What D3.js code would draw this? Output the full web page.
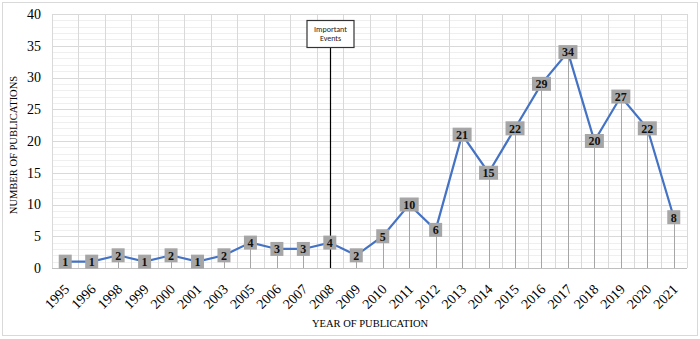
<!DOCTYPE html>
<html>
<head>
<meta charset="utf-8">
<script src="https://cdn.jsdelivr.net/npm/d3@7"></script>
<style>
  body { margin: 0; background: #fff; }
  svg { display: block; }
</style>
</head>
<body>
<script>
var width = 700,
    height = 339;

var years = ["1995", "1996", "1998", "1999", "2000", "2001", "2003", "2005", "2006", "2007", "2008",
             "2009", "2010", "2011", "2012", "2013", "2014", "2015", "2016", "2017", "2018", "2019", "2020", "2021"];
var counts = [1, 1, 2, 1, 2, 1, 2, 4, 3, 3, 4, 2, 5, 10, 6, 21, 15, 22, 29, 34, 20, 27, 22, 8];
var yTicks = [0, 5, 10, 15, 20, 25, 30, 35, 40];
var eventYear = "2008";
var eventText = ["Important", "Events"];

var serif = "Liberation Serif, Times New Roman, serif";
var margin = {left: 52, right: 13, top: 14, bottom: 71};

var xScale = d3.scaleBand()
    .domain(years)
    .range([margin.left, width - margin.right]);

var yScale = d3.scaleLinear()
    .domain([0, 40])
    .range([height - margin.bottom, margin.top]);

var svg = d3.select("body")
    .append("svg")
    .attr("width", width)
    .attr("height", height);

// outer frame
svg.append("rect")
    .attr("x", 2.5).attr("y", 2.5)
    .attr("width", width - 5).attr("height", height - 6)
    .attr("fill", "#fff")
    .attr("stroke", "#d9d9d9");

// minor horizontal grid
svg.append("g")
    .selectAll("line")
    .data(d3.range(1, 40).filter(function(d) { return d % 5 != 0; }))
    .enter()
    .append("line")
    .attr("x1", margin.left).attr("x2", width - margin.right)
    .attr("y1", function(d) { return Math.round(yScale(d)) + 0.5; })
    .attr("y2", function(d) { return Math.round(yScale(d)) + 0.5; })
    .attr("stroke", "#efefef");

// major horizontal grid
svg.append("g")
    .selectAll("line")
    .data(yTicks)
    .enter()
    .append("line")
    .attr("x1", margin.left).attr("x2", width - margin.right)
    .attr("y1", function(d) { return Math.round(yScale(d)) + 0.5; })
    .attr("y2", function(d) { return Math.round(yScale(d)) + 0.5; })
    .attr("stroke", function(d) { return d == 0 ? "#bfbfbf" : "#d9d9d9"; });

// vertical grid at band edges
var edges = years.map(function(d) { return xScale(d); }).concat([width - margin.right]);
svg.append("g")
    .selectAll("line")
    .data(edges)
    .enter()
    .append("line")
    .attr("x1", function(d) { return Math.round(d) + 0.5; })
    .attr("x2", function(d) { return Math.round(d) + 0.5; })
    .attr("y1", yScale(40)).attr("y2", yScale(0))
    .attr("stroke", "#d9d9d9");

function cx(d) { return xScale(d) + xScale.bandwidth() / 2; }

// drop lines
svg.append("g")
    .selectAll("line")
    .data(years)
    .enter()
    .filter(function(d) { return d != eventYear; })
    .append("line")
    .attr("x1", function(d) { return Math.round(cx(d)) + 0.5; })
    .attr("x2", function(d) { return Math.round(cx(d)) + 0.5; })
    .attr("y1", function(d) { return yScale(counts[years.indexOf(d)]); })
    .attr("y2", yScale(0))
    .attr("stroke", "#a6a6a6");

// important events marker
var ex = Math.round(cx(eventYear)) + 0.5;
svg.append("line")
    .attr("x1", ex).attr("x2", ex)
    .attr("y1", 48).attr("y2", yScale(0))
    .attr("stroke", "#000")
    .attr("stroke-width", 1.2);

svg.append("rect")
    .attr("x", ex - 23.5).attr("y", 20.5)
    .attr("width", 47).attr("height", 27)
    .attr("fill", "#fff")
    .attr("stroke", "#333")
    .attr("stroke-width", 1.2);

svg.append("text")
    .attr("x", ex)
    .attr("y", 32)
    .attr("text-anchor", "middle")
    .attr("font-family", "Carlito, Liberation Sans, sans-serif")
    .attr("font-size", "8px")
    .attr("fill", "#222")
    .selectAll("tspan")
    .data(eventText)
    .enter()
    .append("tspan")
    .attr("x", ex)
    .attr("dy", function(d, i) { return i == 0 ? 0 : 9; })
    .text(function(d) { return d; });

// line
var line = d3.line()
    .x(function(d, i) { return cx(years[i]); })
    .y(function(d) { return yScale(d); });

svg.append("path")
    .datum(counts)
    .attr("d", line)
    .attr("fill", "none")
    .attr("stroke", "#4472c4")
    .attr("stroke-width", 2.2);

// data labels
var labels = svg.append("g")
    .selectAll("g")
    .data(counts)
    .enter()
    .append("g")
    .attr("transform", function(d, i) {
        return "translate(" + cx(years[i]) + "," + yScale(d) + ")";
    });

labels.append("rect")
    .attr("x", function(d) { return d >= 10 ? -9.5 : -6.5; })
    .attr("y", -7)
    .attr("width", function(d) { return d >= 10 ? 19 : 13; })
    .attr("height", 14)
    .attr("fill", "#a6a6a6");

labels.append("text")
    .attr("text-anchor", "middle")
    .attr("dy", "0.36em")
    .style("font-family", serif)
    .attr("font-weight", "bold")
    .attr("font-size", "12px")
    .attr("fill", "#111")
    .text(function(d) { return d; });

// y axis
var yAxis = d3.axisLeft(yScale).tickValues(yTicks).tickSize(0).tickPadding(0);
var gy = svg.append("g")
    .attr("transform", "translate(41,0)")
    .call(yAxis);
gy.select(".domain").remove();
gy.selectAll("text")
    .style("font-family", serif)
    .attr("font-size", "14px")
    .attr("fill", "#000");

// x axis
var xAxis = d3.axisBottom(xScale).tickSize(0).tickPadding(0);
var gx = svg.append("g")
    .attr("transform", "translate(0," + yScale(0) + ")")
    .call(xAxis);
gx.select(".domain").remove();
gx.selectAll("text")
    .style("font-family", serif)
    .attr("font-size", "14px")
    .attr("fill", "#000")
    .attr("text-anchor", "end")
    .attr("dy", null)
    .attr("y", 0)
    .attr("transform", "translate(5,22) rotate(-45)");

// axis titles
svg.append("text")
    .attr("x", 370)
    .attr("y", 327)
    .attr("text-anchor", "middle")
    .style("font-family", serif)
    .attr("font-size", "10.5px")
    .text("YEAR OF PUBLICATION");

svg.append("text")
    .attr("transform", "translate(17," + ((yScale(0) + yScale(40)) / 2 + 4) + ") rotate(-90)")
    .attr("text-anchor", "middle")
    .style("font-family", serif)
    .attr("font-size", "10.5px")
    .text("NUMBER OF PUBLICATIONS");
</script>
</body>
</html>
